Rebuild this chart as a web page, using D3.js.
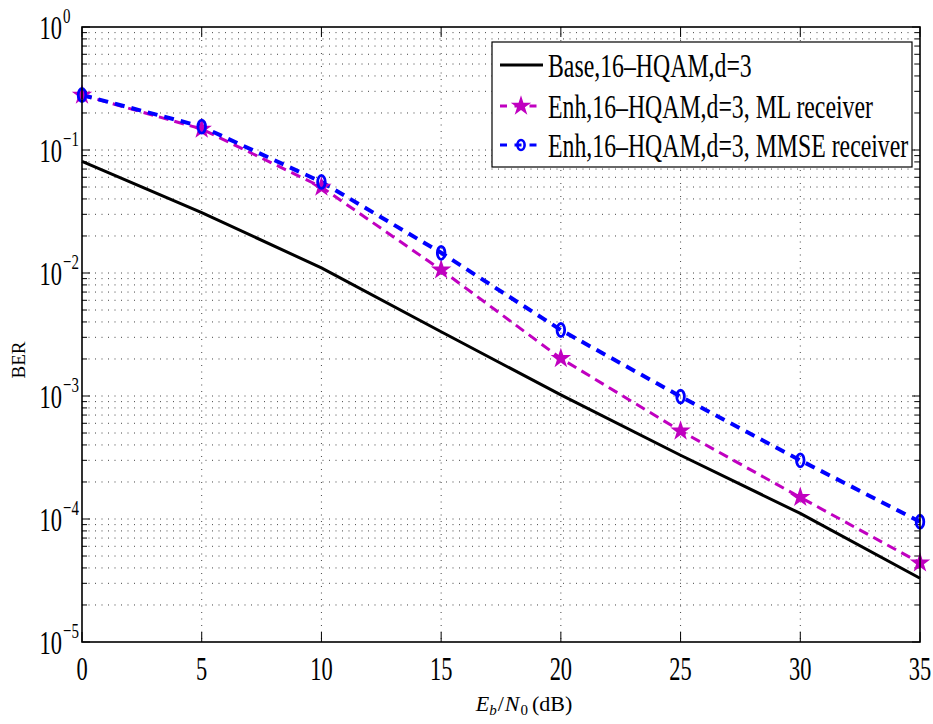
<!DOCTYPE html>
<html>
<head>
<meta charset="utf-8">
<script src="https://cdn.jsdelivr.net/npm/d3@7"></script>
<style>
  body { margin: 0; background: #fff; }
  text { font-family: "Liberation Serif", "Times New Roman", serif; fill: #000; }
</style>
</head>
<body>
<script>
// values
const snr = [0, 5, 10, 15, 20, 25, 30, 35]
const baseBer = [0.081, 0.031, 0.011, 0.00333, 0.00102, 3.3e-4, 1.11e-4, 3.3e-5]
const mlBer = [0.28, 0.148, 0.05, 0.0106, 0.00202, 5.2e-4, 1.5e-4, 4.4e-5]
const mmseBer = [0.28, 0.155, 0.055, 0.0146, 0.00344, 9.9e-4, 3.0e-4, 9.5e-5]
const xTicks = [0, 5, 10, 15, 20, 25, 30, 35]
const yExps = [0, -1, -2, -3, -4, -5]
const legendNames = ['Base,16\u2013HQAM,d=3', 'Enh,16\u2013HQAM,d=3, ML receiver', 'Enh,16\u2013HQAM,d=3, MMSE receiver']

let width = 933
let height = 724
let plotL = 82, plotR = 920, plotT = 27, plotB = 642
const squash = 0.68   // text in the picture is narrow

const svg = d3.select('body').append('svg').attr('width', width).attr('height', height)

const x = d3.scaleLinear().domain([0, 35]).range([plotL, plotR])
const y = d3.scaleLog().domain([1e-5, 1]).range([plotB, plotT])

// grid
let minors = []
for (let e = -5; e < 0; e++) {
  for (let m = 1; m <= 9; m++) minors.push(m * Math.pow(10, e))
}
minors.push(1)

const grid = svg.append('g').attr('stroke', '#444').attr('stroke-width', 1).attr('stroke-dasharray', '1,5.5')
grid.selectAll('.hg').data(minors.filter(v => v > 1e-5 && v < 1)).enter().append('line')
  .attr('x1', plotL).attr('x2', plotR).attr('y1', d => y(d)).attr('y2', d => y(d))
grid.selectAll('.vg').data(xTicks.filter(v => v > 0 && v < 35)).enter().append('line')
  .attr('y1', plotT).attr('y2', plotB).attr('x1', d => x(d)).attr('x2', d => x(d))

// ticks (inside, on all four sides)
const ticks = svg.append('g').attr('stroke', '#000').attr('stroke-width', 1)
xTicks.forEach(v => {
  ticks.append('line').attr('x1', x(v)).attr('x2', x(v)).attr('y1', plotB).attr('y2', plotB - 10)
  ticks.append('line').attr('x1', x(v)).attr('x2', x(v)).attr('y1', plotT).attr('y2', plotT + 10)
})
minors.forEach(v => {
  let major = Math.abs(Math.log10(v) - Math.round(Math.log10(v))) < 1e-9
  let len = major ? 8 : 5
  ticks.append('line').attr('x1', plotL).attr('x2', plotL + len).attr('y1', y(v)).attr('y2', y(v))
  ticks.append('line').attr('x1', plotR).attr('x2', plotR - len).attr('y1', y(v)).attr('y2', y(v))
})

// lines
const line = d3.line().x((d, i) => x(snr[i])).y(d => y(d))

svg.append('path').datum(baseBer).attr('d', line)
  .attr('fill', 'none').attr('stroke', '#000').attr('stroke-width', 3)
svg.append('path').datum(mlBer).attr('d', line)
  .attr('fill', 'none').attr('stroke', '#c000c0').attr('stroke-width', 3).attr('stroke-dasharray', '10,6')
svg.append('path').datum(mmseBer).attr('d', line)
  .attr('fill', 'none').attr('stroke', '#0000ff').attr('stroke-width', 4).attr('stroke-dasharray', '10,7')

const star = d3.symbol().type(d3.symbolStar).size(130)
svg.selectAll('.star').data(mlBer).enter().append('path')
  .attr('d', star)
  .attr('transform', (d, i) => `translate(${x(snr[i])},${y(d)})`)
  .attr('fill', '#c000c0')

svg.selectAll('.circ').data(mmseBer).enter().append('ellipse')
  .attr('cx', (d, i) => x(snr[i])).attr('cy', d => y(d))
  .attr('rx', 3.8).attr('ry', 6.5)
  .attr('fill', 'none').attr('stroke', '#0000ff').attr('stroke-width', 2.8)

// axis box
svg.append('rect').attr('x', plotL).attr('y', plotT).attr('width', plotR - plotL).attr('height', plotB - plotT)
  .attr('fill', 'none').attr('stroke', '#000').attr('stroke-width', 1.6)

// narrow text helper
function narrow(px, py, str, size, anchor, sq) {
  return svg.append('g').attr('transform', `translate(${px},${py}) scale(${sq || squash},1)`)
    .append('text').attr('font-size', size).attr('text-anchor', anchor || 'start').text(str)
}

xTicks.forEach(v => narrow(x(v), 680, String(v), 33, 'middle'))

yExps.forEach(e => {
  let yy = y(Math.pow(10, e))
  narrow(62, yy + 12, '10', 33, 'end')
  narrow(63, yy - 4, e === 0 ? '0' : '\u2212' + (-e), 22, 'start')
})

// axis labels
svg.append('text').attr('transform', `translate(25,360) rotate(-90)`)
  .attr('font-size', 19).attr('text-anchor', 'middle').text('BER')

const xl = svg.append('text').attr('x', 524).attr('y', 711).attr('font-size', 22).attr('text-anchor', 'middle')
xl.append('tspan').attr('font-style', 'italic').text('E')
xl.append('tspan').attr('font-style', 'italic').attr('font-size', 15).attr('dy', 4).text('b')
xl.append('tspan').attr('dy', -4).attr('dx', 1).text('/')
xl.append('tspan').attr('font-style', 'italic').attr('dx', 1).text('N')
xl.append('tspan').attr('font-size', 15).attr('dy', 4).attr('dx', 1).text('0')
xl.append('tspan').attr('dy', -4).attr('dx', 4).text('(dB)')

// legend
const lg = svg.append('g')
lg.append('rect').attr('x', 492).attr('y', 42).attr('width', 420).attr('height', 125)
  .attr('fill', '#fff').attr('stroke', '#000').attr('stroke-width', 1.2)

const rowY = [65, 106, 145]
lg.append('line').attr('x1', 500).attr('x2', 543).attr('y1', rowY[0]).attr('y2', rowY[0])
  .attr('stroke', '#000').attr('stroke-width', 3)
lg.append('line').attr('x1', 500).attr('x2', 543).attr('y1', rowY[1]).attr('y2', rowY[1])
  .attr('stroke', '#c000c0').attr('stroke-width', 3).attr('stroke-dasharray', '7,7.5,7,8')
lg.append('path').attr('d', star).attr('transform', `translate(521,${rowY[1]})`).attr('fill', '#c000c0')
lg.append('line').attr('x1', 500).attr('x2', 543).attr('y1', rowY[2]).attr('y2', rowY[2])
  .attr('stroke', '#0000ff').attr('stroke-width', 3).attr('stroke-dasharray', '7,7.5,7,8')
lg.append('ellipse').attr('cx', 521).attr('cy', rowY[2]).attr('rx', 3.6).attr('ry', 5)
  .attr('fill', 'none').attr('stroke', '#0000ff').attr('stroke-width', 2.6)

legendNames.forEach((n, i) => narrow(548, rowY[i] + 11.5, n, 34, 'start', 0.70))
</script>
</body>
</html>
